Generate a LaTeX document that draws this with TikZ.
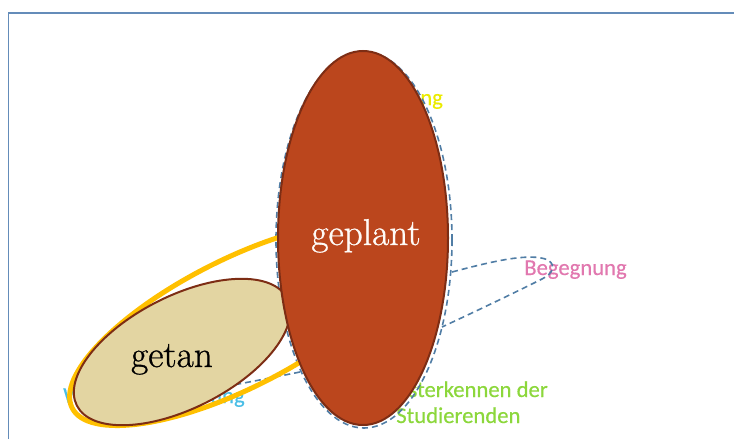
\documentclass[tikz,border=0pt]{standalone}
\usepackage{fontspec}
\newfontfamily\calibri[FakeBold=0.4]{Carlito}
\newfontfamily\planfont[FakeBold=0.8]{Latin Modern Roman}
\definecolor{planred}{RGB}{187,70,29}
\definecolor{planrim}{RGB}{125,45,20}
\definecolor{donetan}{RGB}{227,213,162}
\definecolor{hullblue}{RGB}{80,125,165}
\definecolor{bandgold}{RGB}{255,192,0}
\definecolor{framblue}{RGB}{100,140,185}
\definecolor{txtyellow}{RGB}{235,235,0}
\definecolor{txtpink}{RGB}{225,120,175}
\definecolor{txtgreen}{RGB}{140,215,60}
\definecolor{txtcyan}{RGB}{75,190,230}
\begin{document}
\begin{tikzpicture}[x=0.75pt,y=-0.75pt,
	note/.style={font=\calibri\fontsize{17}{20}\selectfont,inner sep=0pt},
	big/.style={font=\planfont\fontsize{28}{30}\selectfont,inner sep=0pt},
	hull/.style={draw=hullblue,line width=1.2pt,dash pattern=on 4.5pt off 3pt},
	band/.style={draw=bandgold,line width=3.75pt},
	rim/.style={draw=planrim,line width=1.5pt}]
			\useasboundingbox (0,0) rectangle (734,439);
			\draw[framblue,line width=1.1pt] (8.5,439) -- (8.5,13) -- (734,13);

			\node[note,txtyellow,anchor=base west] (ng) at (420,105) {ng};
			\node[note,txtpink,anchor=base west] (begegnung) at (524,275) {Begegnung};
			\node[note,txtgreen,anchor=base east] (kennen) at (548,397) {sterkennen der};
			\node[note,txtgreen,anchor=base west] (studis) at (396,423) {Studierenden};
			\node[note,txtcyan,anchor=base west] (w) at (63,403) {W};
			\node[note,txtcyan,anchor=base east] (ung) at (245,403) {ung};

			\draw[hull] (364,240) ellipse [x radius=88, y radius=188];
			\draw[hull] (452,272) .. controls (490,262) and (530,252) .. (548,260)
				.. controls (557,266) and (552,274) .. (542,279)
				.. controls (510,295) and (470,314) .. (442,327);
			\draw[hull] (300,372) .. controls (260,380) and (210,390) .. (170,395);

			\draw[band,rotate around={27:(237,324)}] (237,324) ellipse [x radius=185, y radius=64];
			\fill[donetan,rotate around={27:(182,352)}] (182,352) ellipse [x radius=118, y radius=56];
			\draw[rim,rotate around={27:(182,352)}] (182,352) ellipse [x radius=118, y radius=56];
			\fill[planred] (363,238) ellipse [x radius=85, y radius=187];
			\draw[rim] (363,238) ellipse [x radius=85, y radius=187];

			\node[big,white!97!orange,anchor=base] (geplant) at (366,245) {geplant};
			\node[big,black,anchor=base] (getan) at (172,367) {getan};
\end{tikzpicture}
\end{document}
